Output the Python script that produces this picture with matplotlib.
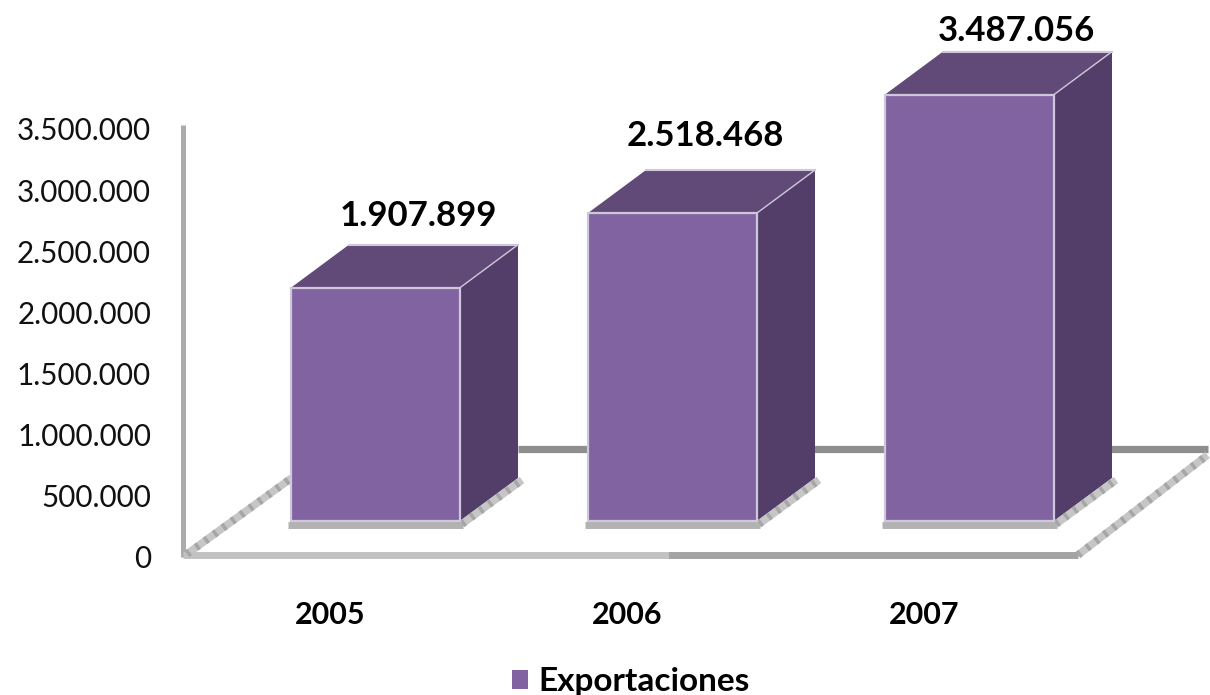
import numpy as np
import matplotlib
matplotlib.use('Agg')
import matplotlib.pyplot as plt
from matplotlib.patches import Polygon
from matplotlib.ticker import FuncFormatter

years = ['2005', '2006', '2007']
exportaciones = [1907899, 2518468, 3487056]
value_labels = ['1.907.899', '2.518.468', '3.487.056']
y_ticks = [0, 500000, 1000000, 1500000, 2000000, 2500000, 3000000, 3500000]
# label offset from the bar's top centre, pixels
label_dx = [43, 33, 47]
label_dy = [29, 34, 21]

plt.rcParams['font.family'] = ['Lato', 'DejaVu Sans']

W, H = 1210, 695
# one category = 297 px, axis goes from 0 (y=557) to 3.5M (y=129)
def dx(px):
    return px / 297.0
def dy(px):
    return px * 3500000 / 428.0

fig = plt.figure(figsize=(W / 100, H / 100), dpi=100)
ax = fig.add_axes([183 / W, (H - 557) / H, (1078 - 183) / W, 428 / H])
x_left = -dx(375.5 - 183)
x_right = dx(1078 - 375.5)
ax.set_xlim(x_left, x_right)
ax.set_ylim(0, 3500000)
for s in ax.spines.values():
    s.set_visible(False)
ax.patch.set_visible(False)

front = '#8263a2'
top = '#614a78'
side = '#523e68'
edge = '#cfc8da'
floor_light = '#c2c2c2'
floor_dark = '#a3a3a3'
notch = '#a6a6a6'

def hatched(x0, y0, x1, y1, lw=5.5, z=1):
    ax.plot([x0, x1], [y0, y1], color='#c6c6c6', lw=lw, solid_capstyle='butt', zorder=z, clip_on=False)
    ax.plot([x0, x1], [y0, y1], color=notch, lw=lw, linestyle=(0, (0.45, 1.0)), zorder=z + 0.1, clip_on=False)

# walls and floor
ax.plot([x_left, x_left], [0, dy(432)], color='#ababab', lw=3.6, solid_capstyle='butt', zorder=1, clip_on=False)
ax.plot([dx(518 - 376), dx(1208 - 376)], [dy(557 - 449)] * 2, color='#8e8e8e', lw=5.2, solid_capstyle='butt', zorder=1, clip_on=False)
hatched(x_left + dx(4), dy(3), dx(292 - 376), dy(557 - 478))
hatched(x_right, dy(2), dx(1208 - 376), dy(557 - 455))
ax.plot([x_left, dx(668 - 376)], [dy(2)] * 2, color=floor_light, lw=5, solid_capstyle='butt', zorder=1, clip_on=False)
ax.plot([dx(668 - 376), x_right], [dy(2)] * 2, color=floor_dark, lw=5, solid_capstyle='butt', zorder=1, clip_on=False)

# bars
xs = np.arange(len(years))
bar_w = dx(169)
base = dy(36)
ddx = dx(58)
ddy = dy(43)
bars = ax.bar(xs, exportaciones, width=bar_w, bottom=base, color=front, edgecolor=edge, linewidth=1.6,
              label='Exportaciones', zorder=4, clip_on=False)
for i, v in enumerate(exportaciones):
    l = xs[i] - bar_w / 2
    r = xs[i] + bar_w / 2
    t = base + v
    ax.add_patch(Polygon([(r, base), (r + ddx, base + ddy), (r + ddx, t + ddy), (r, t)],
                         closed=True, facecolor=side, edgecolor='none', zorder=3, clip_on=False))
    ax.add_patch(Polygon([(l, t), (l + ddx, t + ddy), (r + ddx, t + ddy), (r, t)],
                         closed=True, facecolor=top, edgecolor='none', zorder=3, clip_on=False))
    ax.plot([l + ddx, r + ddx], [t + ddy] * 2, color=edge, lw=1.5, zorder=3.2, clip_on=False)
    ax.plot([r, r + ddx], [t, t + ddy], color=edge, lw=1.0, zorder=3.2, clip_on=False)
    # shadow strip under the bar
    ax.plot([l - dx(3), r + dx(3)], [base - dy(4)] * 2, color='#b2b2b2', lw=5, solid_capstyle='butt', zorder=3, clip_on=False)
    hatched(r + dx(2), base - dy(3), r + ddx + dx(4), base + ddy - dy(2), z=3)
    ax.annotate(value_labels[i], (xs[i], t + ddy), xytext=(label_dx[i], label_dy[i]),
                textcoords='offset pixels', ha='center', va='center', fontsize=25, fontweight='bold',
                color='black', zorder=6, annotation_clip=False)

# axis labels
ax.set_yticks(y_ticks)
ax.yaxis.set_major_formatter(FuncFormatter(lambda v, p: f'{int(v):,}'.replace(',', '.')))
ax.set_xticks(xs - dx(45))
ax.set_xticklabels(years, fontsize=22, fontweight='bold')
ax.tick_params(axis='y', length=0, pad=23, labelsize=21.3, labelcolor='#111111')
ax.tick_params(axis='x', length=0, pad=32)

leg = ax.legend(loc='center', bbox_to_anchor=((631 - 183) / (1078 - 183), (557 - 682) / 428), frameon=False,
                prop={'size': 24, 'weight': 'bold'}, handlelength=0.48, handleheight=0.48, handletextpad=0.3)
leg.legend_handles[0].set_edgecolor('none')

fig.savefig('out.png', dpi=100)
